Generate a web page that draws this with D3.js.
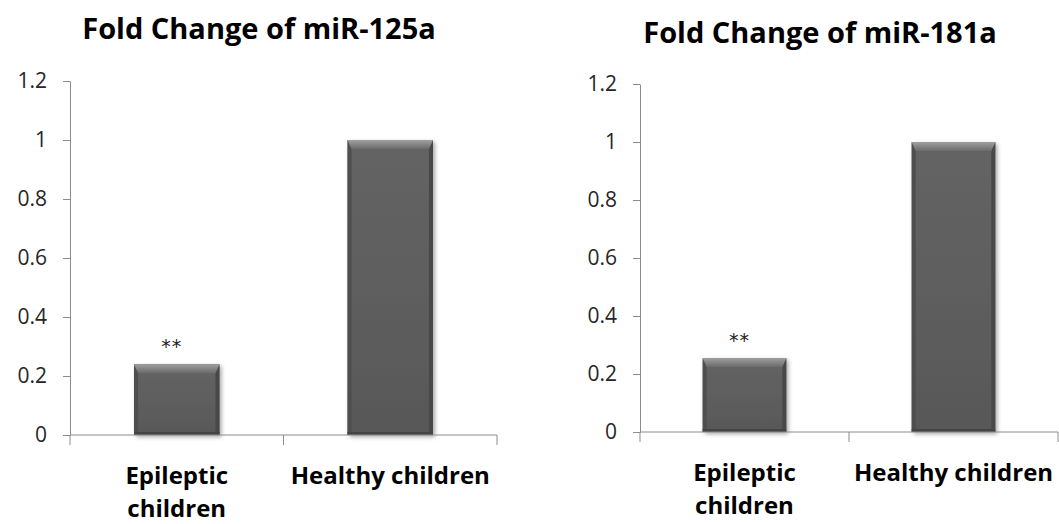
<!DOCTYPE html>
<html>
<head>
<meta charset="utf-8">
<script src="https://cdn.jsdelivr.net/npm/d3@7"></script>
<style>
  html, body { margin: 0; padding: 0; background: #fff; }
  svg { display: block; }
</style>
</head>
<body>
<svg id="chart" width="1059" height="524"></svg>
<script>
// ---- Data ----
const categories = ["Epileptic children", "Healthy children"];
const categoryLines = [["Epileptic", "children"], ["Healthy children"]];
const miR125aValues = [0.24, 1.0];
const miR181aValues = [0.255, 1.0];
const significance = ["**", ""];
const yTicks = [0, 0.2, 0.4, 0.6, 0.8, 1.0, 1.2];
const yTickLabels = ["0", "0.2", "0.4", "0.6", "0.8", "1", "1.2"];
const titles = ["Fold Change of miR-125a", "Fold Change of miR-181a"];

// ---- Layout ----
const panels = [
  { title: titles[0], values: miR125aValues, x0: 70, x1: 497, yBottom: 435, yTop: 81, titleX: 259, titleY: 39 },
  { title: titles[1], values: miR181aValues, x0: 640, x1: 1058, yBottom: 432, yTop: 84, titleX: 820, titleY: 43 }
];

const svg = d3.select("#chart");
const defs = svg.append("defs");
const flt = defs.append("filter").attr("id", "shadow")
  .attr("x", "-10%").attr("y", "-10%").attr("width", "130%").attr("height", "130%");
flt.append("feDropShadow").attr("dx", 2).attr("dy", 2).attr("stdDeviation", 2)
  .attr("flood-color", "#000").attr("flood-opacity", 0.35);

const topGrad = defs.append("linearGradient").attr("id", "topBevel")
  .attr("x1", 0).attr("y1", 0).attr("x2", 0).attr("y2", 1);
topGrad.append("stop").attr("offset", "0%").attr("stop-color", "#a0a0a0");
topGrad.append("stop").attr("offset", "100%").attr("stop-color", "#6a6a6a");

const faceGrad = defs.append("linearGradient").attr("id", "face")
  .attr("x1", 0).attr("y1", 0).attr("x2", 0).attr("y2", 1);
faceGrad.append("stop").attr("offset", "0%").attr("stop-color", "#646464");
faceGrad.append("stop").attr("offset", "100%").attr("stop-color", "#585858");

const axisColor = "#8c8c8c";
const textColor = "#262626";
const fontFamily = "'Open Sans', 'Liberation Sans', sans-serif";

panels.forEach(p => {
  const g = svg.append("g");
  const x = d3.scaleBand().domain(categories).range([p.x0, p.x1]).paddingInner(0).paddingOuter(0);
  const y = d3.scaleLinear().domain([0, 1.2]).range([p.yBottom, p.yTop]);

  // title
  g.append("text").attr("x", p.titleX).attr("y", p.titleY)
    .attr("text-anchor", "middle").attr("font-family", fontFamily)
    .attr("font-weight", "bold").attr("font-size", 29).attr("fill", "#000")
    .text(p.title);

  // y axis
  const yAxis = d3.axisLeft(y).tickValues(yTicks)
    .tickFormat((d, i) => yTickLabels[i]).tickSizeInner(7).tickSizeOuter(0).tickPadding(16);
  const ya = g.append("g").attr("transform", `translate(${p.x0},0)`).call(yAxis);
  ya.select(".domain").attr("stroke", axisColor);
  ya.selectAll(".tick line").attr("stroke", axisColor);
  ya.selectAll(".tick text").attr("font-family", fontFamily).attr("font-size", 21)
    .attr("fill", textColor);

  // bars
  const bw = x.bandwidth() * 0.4;
  const bars = g.selectAll(".bar").data(p.values).enter().append("g").attr("class", "bar");
  bars.each(function(v, i) {
    const cx = x(categories[i]) + x.bandwidth() / 2;
    const bx = cx - bw / 2;
    const by = y(v);
    const bh = y(0) - y(v);
    const b = 9, s = 4;
    const gg = d3.select(this);
    gg.append("rect").attr("x", bx).attr("y", by).attr("width", bw).attr("height", bh)
      .attr("fill", "url(#face)").attr("filter", "url(#shadow)");
    gg.append("path").attr("d", `M${bx},${by} L${bx + s},${by + b} L${bx + s},${by + bh} L${bx},${by + bh} Z`)
      .attr("fill", "#4e4e4e");
    gg.append("path").attr("d", `M${bx + bw},${by} L${bx + bw - s},${by + b} L${bx + bw - s},${by + bh} L${bx + bw},${by + bh} Z`)
      .attr("fill", "#484848");
    gg.append("path").attr("d", `M${bx},${by} L${bx + bw},${by} L${bx + bw - s},${by + b} L${bx + s},${by + b} Z`)
      .attr("fill", "url(#topBevel)");
    gg.append("rect").attr("x", bx).attr("y", by + bh - 3).attr("width", bw).attr("height", 3)
      .attr("fill", "#444");
    if (significance[i]) {
      gg.append("text").attr("x", cx - 5).attr("y", by - 11).attr("text-anchor", "middle")
        .attr("font-family", "'DejaVu Sans', sans-serif").attr("font-size", 19).attr("fill", "#222")
        .attr("letter-spacing", 1)
        .text(significance[i]);
    }
  });

  // x axis
  g.append("line").attr("x1", p.x0).attr("x2", p.x1).attr("y1", y(0)).attr("y2", y(0))
    .attr("stroke", axisColor);
  const bounds = [p.x0].concat(categories.map(c => x(c) + x.bandwidth()));
  g.selectAll(".xtick").data(bounds).enter().append("line")
    .attr("x1", d => d).attr("x2", d => d).attr("y1", y(0)).attr("y2", y(0) + 10)
    .attr("stroke", axisColor);

  // category labels
  categories.forEach((c, i) => {
    const cx = x(c) + x.bandwidth() / 2;
    const t = g.append("text").attr("text-anchor", "middle").attr("font-family", fontFamily)
      .attr("font-weight", "bold").attr("font-size", 24).attr("fill", "#000");
    categoryLines[i].forEach((ln, j) => {
      t.append("tspan").attr("x", cx).attr("y", y(0) + 49 + j * 33).text(ln);
    });
  });
});
</script>
</body>
</html>
